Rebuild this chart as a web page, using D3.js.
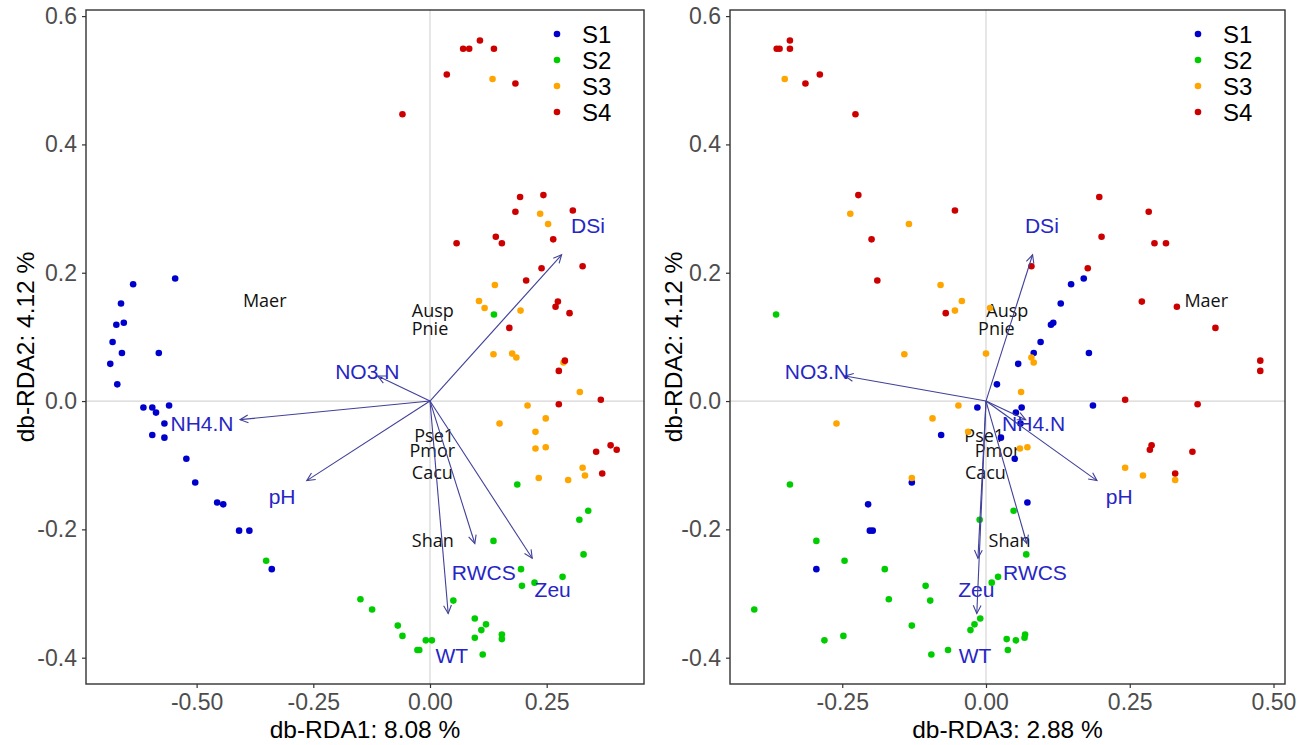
<!DOCTYPE html>
<html>
<head>
<meta charset="utf-8">
<script src="https://cdn.jsdelivr.net/npm/d3@7"></script>
<style>
  body { margin: 0; background: #fff; }
  svg { display: block; }
</style>
</head>
<body>
<script>
// sample scores per group: [db-RDA1, db-RDA2, db-RDA3]
var groups = ["S1", "S2", "S3", "S4"];
var groupColors = ["#0000cd", "#00cd00", "#ffa500", "#cd0000"];

var s1 = [
  [-0.546, 0.191, 0.170], [-0.636, 0.182, 0.148], [-0.662, 0.152, 0.130],
  [-0.672, 0.119, 0.113], [-0.656, 0.122, 0.117], [-0.680, 0.092, 0.095],
  [-0.660, 0.075, 0.083], [-0.581, 0.075, 0.179], [-0.685, 0.058, 0.056],
  [-0.670, 0.026, 0.019], [-0.614, -0.010, 0.062], [-0.595, -0.010, -0.015],
  [-0.587, -0.018, 0.052], [-0.559, -0.007, 0.186], [-0.569, -0.035, 0.060],
  [-0.595, -0.053, -0.078], [-0.569, -0.057, 0.026], [-0.522, -0.090, 0.050],
  [-0.503, -0.127, -0.129], [-0.456, -0.158, 0.072], [-0.443, -0.161, -0.205],
  [-0.409, -0.202, -0.202], [-0.387, -0.202, -0.197], [-0.339, -0.262, -0.295]
];
var s2 = [
  [0.137, 0.135, -0.365], [0.187, -0.130, -0.341], [-0.351, -0.249, -0.246],
  [0.339, -0.171, 0.048], [0.320, -0.185, -0.011], [0.136, -0.218, -0.295],
  [0.329, -0.239, 0.070], [0.195, -0.262, -0.176], [0.284, -0.274, 0.021],
  [0.224, -0.283, 0.010], [0.197, -0.288, -0.105], [-0.149, -0.309, -0.169],
  [-0.124, -0.325, -0.403], [0.050, -0.311, -0.097], [-0.069, -0.350, -0.129],
  [-0.059, -0.366, -0.248], [-0.009, -0.373, -0.281], [0.004, -0.373, 0.052],
  [-0.027, -0.388, -0.066], [-0.023, -0.388, 0.038], [0.096, -0.339, -0.010],
  [0.120, -0.348, -0.020], [0.110, -0.357, -0.027], [0.096, -0.369, 0.067],
  [0.154, -0.364, 0.068], [0.154, -0.371, 0.036], [0.113, -0.395, -0.095]
];
var s3 = [
  [0.134, 0.502, -0.350], [0.236, 0.292, -0.236], [0.253, 0.276, -0.134],
  [0.139, 0.181, -0.079], [0.105, 0.156, -0.042], [0.117, 0.145, 0.007],
  [0.194, 0.141, -0.054], [0.136, 0.073, -0.142], [0.176, 0.074, 0.000],
  [0.185, 0.068, 0.079], [0.286, 0.060, 0.083], [0.321, 0.014, 0.061],
  [0.209, -0.007, -0.048], [0.248, -0.027, -0.093], [0.149, -0.035, -0.260],
  [0.226, -0.048, -0.031], [0.226, -0.074, 0.059], [0.248, -0.072, 0.072],
  [0.327, -0.104, 0.242], [0.332, -0.116, 0.273], [0.233, -0.120, -0.129],
  [0.296, -0.123, 0.329]
];
var s4 = [
  [0.107, 0.562, -0.341], [0.071, 0.549, -0.364], [0.084, 0.549, -0.359],
  [0.137, 0.549, -0.341], [0.036, 0.509, -0.289], [0.183, 0.495, -0.314],
  [-0.059, 0.447, -0.227], [0.193, 0.318, 0.197], [0.243, 0.321, -0.222],
  [0.183, 0.295, 0.283], [0.306, 0.297, -0.054], [0.141, 0.256, 0.201],
  [0.154, 0.246, 0.293], [0.057, 0.246, 0.313], [0.264, 0.252, -0.199],
  [0.327, 0.210, 0.079], [0.239, 0.207, 0.177], [0.206, 0.188, -0.189],
  [0.274, 0.155, 0.271], [0.269, 0.147, 0.332], [0.299, 0.137, -0.070],
  [0.170, 0.114, 0.399], [0.289, 0.063, 0.477], [0.276, 0.047, 0.477],
  [0.276, -0.005, 0.368], [0.366, 0.002, 0.242], [0.387, -0.069, 0.288],
  [0.400, -0.076, 0.285], [0.356, -0.079, 0.359], [0.369, -0.113, 0.329]
];
var samples = [s1, s2, s3, s4];

// environmental vectors
var envNames = ["DSi", "NO3.N", "NH4.N", "pH", "RWCS", "Zeu", "WT"];
var envRDA1 = [0.282, -0.112, -0.407, -0.264, 0.096, 0.219, 0.039];
var envRDA2 = [0.228, 0.039, -0.029, -0.124, -0.222, -0.245, -0.331];
var envRDA3 = [0.081, -0.245, 0.069, 0.193, 0.071, -0.014, -0.016];

// species
var spNames = ["Maer", "Ausp", "Pnie", "Pse1", "Pmor", "Cacu", "Shan"];
var spRDA1 = [-0.354, 0.006, 0.000, 0.009, 0.005, 0.005, 0.006];
var spRDA2 = [0.157, 0.141, 0.113, -0.053, -0.077, -0.111, -0.218];
var spRDA3 = [0.383, 0.037, 0.018, -0.003, 0.020, -0.001, 0.041];

var yTicks = [-0.4, -0.2, 0.0, 0.2, 0.4, 0.6];
var xTicksLeft = [-0.50, -0.25, 0.00, 0.25];
var xTicksRight = [-0.25, 0.00, 0.25, 0.50];

var xTitleLeft = "db-RDA1: 8.08 %";
var xTitleRight = "db-RDA3: 2.88 %";
var yTitle = "db-RDA2: 4.12 %";

var W = 1299, H = 745;
var plotTop = 10, plotBottom = 684;
var labelMult = 1.2;

var svg = d3.select("body").append("svg")
  .attr("width", W).attr("height", H);

var y = d3.scaleLinear().domain([-0.441, 0.6095]).range([plotBottom, plotTop]);

function drawPanel(x0, x1, xDomain, xIdx, envX, spX, xTicks, xTitle, yTitleX)
{
  var x = d3.scaleLinear().domain(xDomain).range([x0, x1]);
  var g = svg.append("g");

  // zero lines
  g.append("line")
    .attr("x1", x(0)).attr("x2", x(0))
    .attr("y1", plotTop).attr("y2", plotBottom)
    .attr("stroke", "#d6d6d6").attr("stroke-width", 1.2);
  g.append("line")
    .attr("x1", x0).attr("x2", x1)
    .attr("y1", y(0)).attr("y2", y(0))
    .attr("stroke", "#d6d6d6").attr("stroke-width", 1.2);

  // species names
  g.selectAll(".sp")
    .data(spNames)
    .enter()
    .append("text")
    .attr("x", function(d, i) { return x(spX[i]); })
    .attr("y", function(d, i) { return y(spRDA2[i]); })
    .attr("dy", "0.36em")
    .attr("text-anchor", "middle")
    .attr("font-family", "'Open Sans', sans-serif")
    .attr("font-size", 18)
    .attr("fill", "#111")
    .text(function(d) { return d; });

  // samples
  samples.forEach(function(pts, gi)
  {
    g.selectAll(null)
      .data(pts)
      .enter()
      .append("circle")
      .attr("cx", function(d) { return x(d[xIdx]); })
      .attr("cy", function(d) { return y(d[1]); })
      .attr("r", 3.3)
      .attr("fill", groupColors[gi]);
  });

  // arrows
  var ox = x(0), oy = y(0);
  envNames.forEach(function(name, i)
  {
    var tx = x(envX[i]), ty = y(envRDA2[i]);
    var ang = Math.atan2(ty - oy, tx - ox);
    var len = 9, spread = 0.45;
    var head = "M" + (tx - len * Math.cos(ang - spread)) + "," + (ty - len * Math.sin(ang - spread)) +
      "L" + tx + "," + ty +
      "L" + (tx - len * Math.cos(ang + spread)) + "," + (ty - len * Math.sin(ang + spread));
    g.append("line")
      .attr("x1", ox).attr("y1", oy).attr("x2", tx).attr("y2", ty)
      .attr("stroke", "#40409a").attr("stroke-width", 1.1);
    g.append("path")
      .attr("d", head)
      .attr("fill", "none")
      .attr("stroke", "#40409a").attr("stroke-width", 1.1);
    g.append("text")
      .attr("x", x(envX[i] * labelMult))
      .attr("y", y(envRDA2[i] * labelMult))
      .attr("dy", "0.36em")
      .attr("text-anchor", "middle")
      .attr("font-family", "'Liberation Sans', Arial, sans-serif")
      .attr("font-size", 21)
      .attr("fill", "#2626c6")
      .text(name);
  });

  // border
  g.append("rect")
    .attr("x", x0).attr("y", plotTop)
    .attr("width", x1 - x0).attr("height", plotBottom - plotTop)
    .attr("fill", "none").attr("stroke", "#333").attr("stroke-width", 1.4);

  // axes
  var xAxis = d3.axisBottom(x).tickValues(xTicks).tickSize(4).tickPadding(6);
  var yAxis = d3.axisLeft(y).tickValues(yTicks).tickSize(4).tickPadding(5);

  var gx = g.append("g").attr("transform", "translate(0," + plotBottom + ")").call(xAxis);
  var gy = g.append("g").attr("transform", "translate(" + x0 + ",0)").call(yAxis);
  [gx, gy].forEach(function(a)
  {
    a.select(".domain").remove();
    a.selectAll(".tick line").attr("stroke", "#333").attr("stroke-width", 1.2);
    a.selectAll(".tick text")
      .attr("fill", "#4d4d4d")
      .attr("font-family", "'Liberation Sans', Arial, sans-serif")
      .attr("font-size", 23);
  });
  gx.selectAll(".tick text").text(function(d) { return d3.format(".2f")(d).replace("\u2212", "-"); });
  gy.selectAll(".tick text").text(function(d) { return d3.format(".1f")(d).replace("\u2212", "-"); });

  // titles
  g.append("text")
    .attr("x", (x0 + x1) / 2).attr("y", 738)
    .attr("text-anchor", "middle")
    .attr("font-family", "'Liberation Sans', Arial, sans-serif")
    .attr("font-size", 24.5)
    .attr("fill", "#000")
    .text(xTitle);
  g.append("text")
    .attr("transform", "translate(" + yTitleX + "," + ((plotTop + plotBottom) / 2) + ") rotate(-90)")
    .attr("text-anchor", "middle")
    .attr("dy", "0.36em")
    .attr("font-family", "'Liberation Sans', Arial, sans-serif")
    .attr("font-size", 24.5)
    .attr("fill", "#000")
    .text(yTitle);

  // legend
  var lx = x1 - 87;
  groups.forEach(function(name, i)
  {
    var ly = 34 + i * 26;
    g.append("circle").attr("cx", lx).attr("cy", ly).attr("r", 3.3).attr("fill", groupColors[i]);
    g.append("text")
      .attr("x", lx + 25).attr("y", ly).attr("dy", "0.36em")
      .attr("font-family", "'Liberation Sans', Arial, sans-serif")
      .attr("font-size", 24)
      .attr("fill", "#000")
      .text(name);
  });
}

drawPanel(86, 644, [-0.737, 0.4585], 0, envRDA1, spRDA1, xTicksLeft, xTitleLeft, 25);
drawPanel(730, 1285, [-0.4452, 0.52], 2, envRDA3, spRDA3, xTicksRight, xTitleRight, 673);
</script>
</body>
</html>
